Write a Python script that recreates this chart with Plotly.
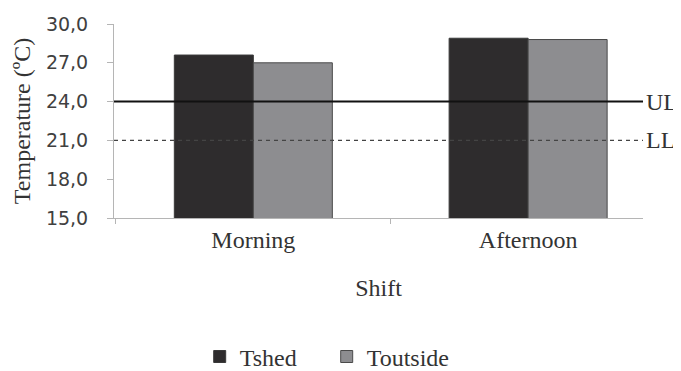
import plotly.graph_objects as go

shifts = ["Morning", "Afternoon"]
tshed = [27.6, 28.9]
toutside = [27.0, 28.8]
ul_value = 24.0
ll_value = 21.0
y_ticks = [15, 18, 21, 24, 27, 30]

serif = "Liberation Serif, Times New Roman, serif"
sans = "DejaVu Sans"
txt = "#333333"

fig = go.Figure()
fig.add_trace(go.Bar(name="Tshed", x=shifts, y=tshed,
                     marker=dict(color="#2e2c2d", line=dict(color="#3a3a3a", width=1))))
fig.add_trace(go.Bar(name="Toutside", x=shifts, y=toutside,
                     marker=dict(color="#8d8d90", line=dict(color="#4a4a4a", width=1))))

fig.add_shape(type="line", xref="x domain", yref="y", x0=0, x1=1, y0=ul_value, y1=ul_value,
              line=dict(color="#111111", width=2))
fig.add_shape(type="line", xref="x domain", yref="y", x0=0, x1=1, y0=ll_value, y1=ll_value,
              line=dict(color="#444444", width=1.3, dash="4px,4px"))
fig.add_annotation(xref="x domain", yref="y", x=1, y=ul_value, text="UL", showarrow=False,
                   xanchor="left", xshift=1, font=dict(family=serif, size=24, color=txt))
fig.add_annotation(xref="x domain", yref="y", x=1, y=ll_value, text="LL", showarrow=False,
                   xanchor="left", xshift=1, font=dict(family=serif, size=24, color=txt))

fig.update_layout(
    width=673, height=363,
    margin=dict(l=106, r=38, t=16, b=153, autoexpand=False),
    paper_bgcolor="white", plot_bgcolor="white",
    separators=",.",
    barmode="group", bargap=0.425, bargroupgap=0,
    showlegend=True,
    legend=dict(orientation="h", x=0.162, xanchor="left", y=-0.716, yanchor="middle",
                font=dict(family=serif, size=24, color=txt),
                entrywidth=82, entrywidthmode="pixels",
                traceorder="normal"),
    xaxis=dict(
        automargin=False,
        range=[-0.507, 1.418],
        showline=True, linecolor="#b5b5b5", linewidth=1,
        ticks="outside", tickson="boundaries", ticklen=5, tickcolor="#b5b5b5",
        showgrid=False, zeroline=False,
        tickfont=dict(family=serif, size=24, color=txt),
        title=dict(text="Shift", font=dict(family=serif, size=24, color=txt), standoff=27),
    ),
    yaxis=dict(
        automargin=False,
        range=[15, 30], tickvals=y_ticks, tickformat=".1f",
        showline=True, linecolor="#b5b5b5", linewidth=1,
        ticks="outside", ticklen=6, tickcolor="#b5b5b5",
        showgrid=False, zeroline=False,
        tickfont=dict(family=sans, size=19, color="#404040"),
        ticklabelstandoff=15,
        title=dict(text="Temperature (ºC)", font=dict(family=serif, size=24, color=txt), standoff=8),
    ),
)

fig.write_html("out.html")
